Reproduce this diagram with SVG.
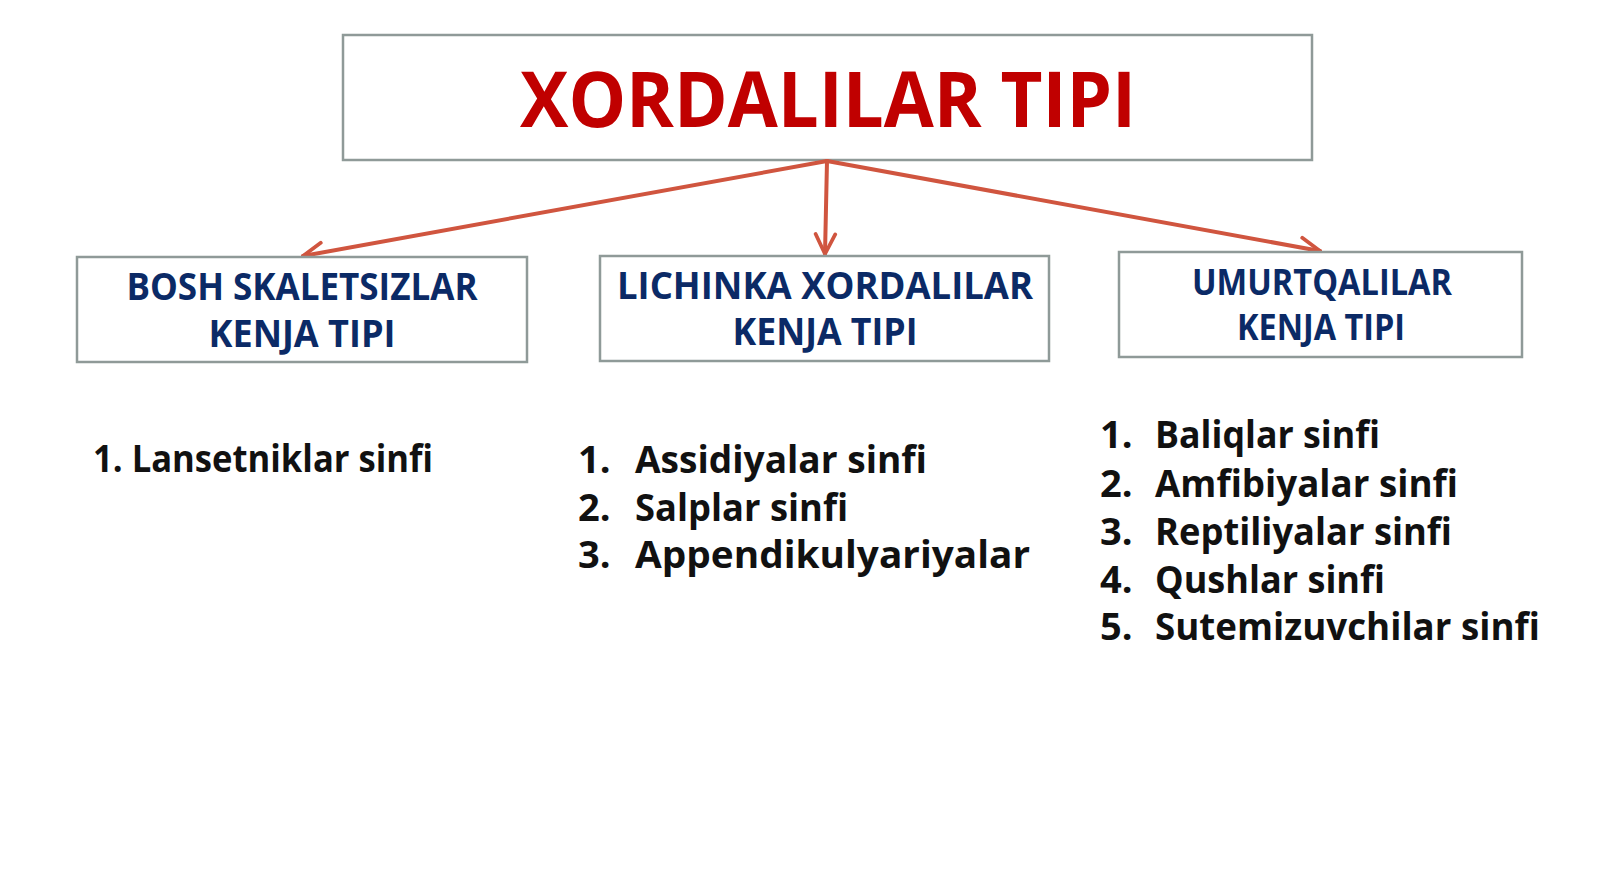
<svg xmlns="http://www.w3.org/2000/svg" width="1600" height="870" viewBox="0 0 1600 870">
<style>
.box{fill:#ffffff;stroke:#8f9a98;stroke-width:2.5}
.title{font-family:"Open Sans","Liberation Sans",sans-serif;font-weight:bold;fill:#c00000;font-size:77px}
.sub{font-family:"Open Sans","Liberation Sans",sans-serif;font-weight:bold;fill:#0b2a66;text-anchor:middle}
.item{font-family:"Open Sans","Liberation Sans",sans-serif;font-weight:bold;fill:#111111;font-size:38px}
.conn{stroke:#d0553f;stroke-width:4;fill:none;stroke-linecap:round}
</style>
<defs>
<marker id="arr" viewBox="0 0 12 12" refX="10.5" refY="6" markerWidth="7" markerHeight="7" orient="auto" markerUnits="strokeWidth">
<path d="M2,1.8 L10.5,6 L2,10.2" fill="none" stroke="#d0553f" stroke-width="1.6" stroke-linecap="round" stroke-linejoin="round"/>
</marker>
</defs>
<rect width="1600" height="870" fill="#ffffff"/>
<g id="root">
<rect class="box" x="343" y="35" width="969" height="125"/>
<text class="title" x="520" y="127" textLength="616" lengthAdjust="spacingAndGlyphs">XORDALILAR TIPI</text>
</g>
<g id="connectors">
<line class="conn" x1="827" y1="161" x2="303" y2="256" marker-end="url(#arr)"/>
<line class="conn" x1="827" y1="161" x2="825" y2="254" marker-end="url(#arr)"/>
<line class="conn" x1="827" y1="161" x2="1320" y2="251" marker-end="url(#arr)"/>
</g>
<g id="node-bosh">
<rect class="box" x="77" y="257" width="450" height="105"/>
<text class="sub" x="302" y="300" font-size="37" textLength="351" lengthAdjust="spacingAndGlyphs">BOSH SKALETSIZLAR</text>
<text class="sub" x="302" y="347" font-size="37" textLength="187" lengthAdjust="spacingAndGlyphs">KENJA TIPI</text>
</g>
<g id="node-lichinka">
<rect class="box" x="600" y="256" width="449" height="105"/>
<text class="sub" x="825" y="299" font-size="37" textLength="416" lengthAdjust="spacingAndGlyphs">LICHINKA XORDALILAR</text>
<text class="sub" x="825" y="345" font-size="37" textLength="185" lengthAdjust="spacingAndGlyphs">KENJA TIPI</text>
</g>
<g id="node-umurtqalilar">
<rect class="box" x="1119" y="252" width="403" height="105"/>
<text class="sub" x="1322" y="295" font-size="35" textLength="260" lengthAdjust="spacingAndGlyphs">UMURTQALILAR</text>
<text class="sub" x="1321" y="340" font-size="35" textLength="168" lengthAdjust="spacingAndGlyphs">KENJA TIPI</text>
</g>
<g id="list-bosh">
<text class="item" x="93" y="472" textLength="340" lengthAdjust="spacingAndGlyphs">1. Lansetniklar sinfi</text>
</g>
<g id="list-lichinka">
<text class="item" x="578" y="473">1.</text>
<text class="item" x="635" y="473" textLength="292" lengthAdjust="spacingAndGlyphs">Assidiyalar sinfi</text>
<text class="item" x="578" y="521">2.</text>
<text class="item" x="635" y="521" textLength="213" lengthAdjust="spacingAndGlyphs">Salplar sinfi</text>
<text class="item" x="578" y="568">3.</text>
<text class="item" x="635" y="568" textLength="395" lengthAdjust="spacingAndGlyphs">Appendikulyariyalar</text>
</g>
<g id="list-umurtqalilar">
<text class="item" x="1100" y="448">1.</text>
<text class="item" x="1155" y="448" textLength="225" lengthAdjust="spacingAndGlyphs">Baliqlar sinfi</text>
<text class="item" x="1100" y="497">2.</text>
<text class="item" x="1155" y="497" textLength="303" lengthAdjust="spacingAndGlyphs">Amfibiyalar sinfi</text>
<text class="item" x="1100" y="545">3.</text>
<text class="item" x="1155" y="545" textLength="297" lengthAdjust="spacingAndGlyphs">Reptiliyalar sinfi</text>
<text class="item" x="1100" y="593">4.</text>
<text class="item" x="1155" y="593" textLength="230" lengthAdjust="spacingAndGlyphs">Qushlar sinfi</text>
<text class="item" x="1100" y="640">5.</text>
<text class="item" x="1155" y="640" textLength="385" lengthAdjust="spacingAndGlyphs">Sutemizuvchilar sinfi</text>
</g>
</svg>
